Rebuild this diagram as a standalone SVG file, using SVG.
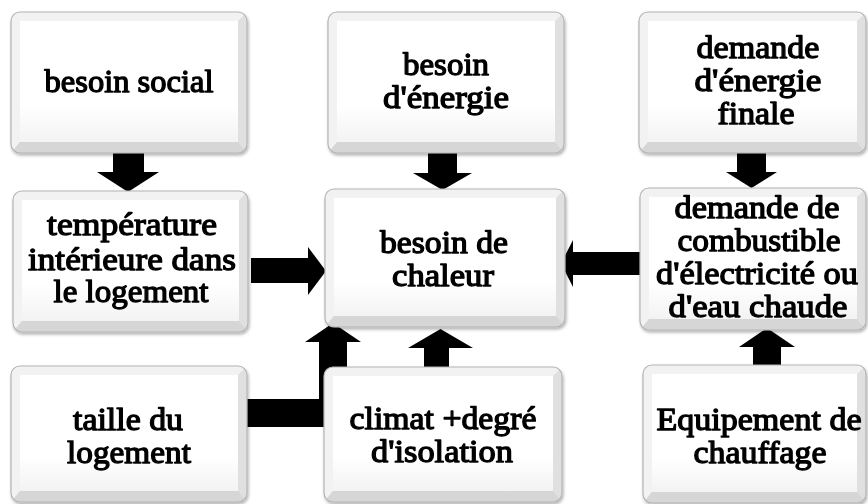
<svg xmlns="http://www.w3.org/2000/svg" width="868" height="504" viewBox="0 0 868 504">
<defs>
<style>
.tl{fill:#f2f2f2}
.br{fill:#e0e0e0}
.bt{fill:#d6d6d6}
.in{fill:url(#face)}
.bd{fill:none;stroke:#b4b4b4;stroke-width:1.2}
.arr{fill:#000}
.lbl{font-family:'Liberation Serif',serif;font-weight:normal;font-size:32px;text-anchor:middle;fill:#000;stroke:#000;stroke-width:1.3;stroke-linejoin:round}
</style>
<linearGradient id="face" x1="0" y1="0" x2="0" y2="1">
<stop offset="0" stop-color="#ffffff"/>
<stop offset="0.7" stop-color="#ffffff"/>
<stop offset="1" stop-color="#f3f3f3"/>
</linearGradient>
<clipPath id="rr" clipPathUnits="objectBoundingBox"><rect x="0" y="0" width="1" height="1" rx="0.04" ry="0.066"/></clipPath>
<filter id="sh" x="-5%" y="-5%" width="115%" height="115%"><feDropShadow dx="1" dy="2" stdDeviation="1.5" flood-color="#000" flood-opacity="0.3"/></filter>
</defs>

<g id="connectors">
<polygon class="arr" points="113,150 144,150 144,172 159,172 128,192 97,172 113,172"/>
<polygon class="arr" points="428,153 457,153 457,173 472,173 442.5,190 413,173 428,173"/>
<polygon class="arr" points="737,153 766,153 766,172 777,172 751.5,188 726,172 737,172"/>
<polygon class="arr" points="251,258 308,258 308,247 326,271 308,295 308,283 251,283"/>
<polygon class="arr" points="640,252 573,252 573,240 561,263.5 573,287 573,275 640,275"/>
<polygon class="arr" points="247,399 319,399 319,342 305,342 333,323 361,342 347,342 347,427 247,427"/>
<polygon class="arr" points="424,367 424,348 408,348 440.5,329 473,348 449,348 449,367"/>
<polygon class="arr" points="753,365 753,347 739,347 767,328 795,347 781,347 781,365"/>
</g>

<g id="n1" filter="url(#sh)">
<g clip-path="url(#rr)">
<rect class="br" x="11" y="12" width="236" height="141"/>
<polygon class="tl" points="11,12 247,12 238,21 20,21 20,142 11,153"/>
<polygon class="bt" points="11,153 247,153 238,142 20,142"/>
<rect class="in" x="20" y="21" width="218" height="121"/>
</g>
<rect class="bd" x="11" y="12" width="236" height="141" rx="9"/>
<text class="lbl" x="129" y="92" textLength="169" lengthAdjust="spacingAndGlyphs">besoin social</text>
</g>

<g id="n2" filter="url(#sh)">
<g clip-path="url(#rr)">
<rect class="br" x="13" y="191" width="235" height="141"/>
<polygon class="tl" points="13,191 248,191 239,200 22,200 22,321 13,332"/>
<polygon class="bt" points="13,332 248,332 239,321 22,321"/>
<rect class="in" x="22" y="200" width="217" height="121"/>
</g>
<rect class="bd" x="13" y="191" width="235" height="141" rx="9"/>
<text class="lbl" x="132" y="235" textLength="170" lengthAdjust="spacingAndGlyphs">température</text>
<text class="lbl" x="132" y="270" textLength="208" lengthAdjust="spacingAndGlyphs">intérieure dans</text>
<text class="lbl" x="131" y="302" textLength="155" lengthAdjust="spacingAndGlyphs">le logement</text>
</g>

<g id="n3" filter="url(#sh)">
<g clip-path="url(#rr)">
<rect class="br" x="11" y="366" width="236" height="136"/>
<polygon class="tl" points="11,366 247,366 238,375 20,375 20,491 11,502"/>
<polygon class="bt" points="11,502 247,502 238,491 20,491"/>
<rect class="in" x="20" y="375" width="218" height="116"/>
</g>
<rect class="bd" x="11" y="366" width="236" height="136" rx="9"/>
<text class="lbl" x="128" y="430" textLength="110" lengthAdjust="spacingAndGlyphs">taille du</text>
<text class="lbl" x="129" y="463" textLength="124" lengthAdjust="spacingAndGlyphs">logement</text>
</g>

<g id="n4" filter="url(#sh)">
<g clip-path="url(#rr)">
<rect class="br" x="328" y="12" width="236" height="141"/>
<polygon class="tl" points="328,12 564,12 555,21 337,21 337,142 328,153"/>
<polygon class="bt" points="328,153 564,153 555,142 337,142"/>
<rect class="in" x="337" y="21" width="218" height="121"/>
</g>
<rect class="bd" x="328" y="12" width="236" height="141" rx="9"/>
<text class="lbl" x="446" y="75" textLength="86" lengthAdjust="spacingAndGlyphs">besoin</text>
<text class="lbl" x="446" y="108" textLength="126" lengthAdjust="spacingAndGlyphs">d'énergie</text>
</g>

<g id="n5" filter="url(#sh)">
<g clip-path="url(#rr)">
<rect class="br" x="325" y="189" width="240" height="138"/>
<polygon class="tl" points="325,189 565,189 556,198 334,198 334,316 325,327"/>
<polygon class="bt" points="325,327 565,327 556,316 334,316"/>
<rect class="in" x="334" y="198" width="222" height="118"/>
</g>
<rect class="bd" x="325" y="189" width="240" height="138" rx="9"/>
<text class="lbl" x="444" y="253" textLength="128" lengthAdjust="spacingAndGlyphs">besoin de</text>
<text class="lbl" x="443" y="286" textLength="102" lengthAdjust="spacingAndGlyphs">chaleur</text>
</g>

<g id="n6" filter="url(#sh)">
<g clip-path="url(#rr)">
<rect class="br" x="324" y="367" width="238" height="135"/>
<polygon class="tl" points="324,367 562,367 553,376 333,376 333,491 324,502"/>
<polygon class="bt" points="324,502 562,502 553,491 333,491"/>
<rect class="in" x="333" y="376" width="220" height="115"/>
</g>
<rect class="bd" x="324" y="367" width="238" height="135" rx="9"/>
<text class="lbl" x="443" y="429" textLength="187" lengthAdjust="spacingAndGlyphs">climat +degré</text>
<text class="lbl" x="442" y="462" textLength="142" lengthAdjust="spacingAndGlyphs">d'isolation</text>
</g>

<g id="n7" filter="url(#sh)">
<g clip-path="url(#rr)">
<rect class="br" x="639" y="12" width="227" height="141"/>
<polygon class="tl" points="639,12 866,12 857,21 648,21 648,142 639,153"/>
<polygon class="bt" points="639,153 866,153 857,142 648,142"/>
<rect class="in" x="648" y="21" width="209" height="121"/>
</g>
<rect class="bd" x="639" y="12" width="227" height="141" rx="9"/>
<text class="lbl" x="758" y="58" textLength="123" lengthAdjust="spacingAndGlyphs">demande</text>
<text class="lbl" x="758" y="91" textLength="127" lengthAdjust="spacingAndGlyphs">d'énergie</text>
<text class="lbl" x="756" y="124" textLength="77" lengthAdjust="spacingAndGlyphs">finale</text>
</g>

<g id="n8" filter="url(#sh)">
<g clip-path="url(#rr)">
<rect class="br" x="640" y="188" width="226" height="142"/>
<polygon class="tl" points="640,188 866,188 857,197 649,197 649,319 640,330"/>
<polygon class="bt" points="640,330 866,330 857,319 649,319"/>
<rect class="in" x="649" y="197" width="208" height="122"/>
</g>
<rect class="bd" x="640" y="188" width="226" height="142" rx="9"/>
<text class="lbl" x="757" y="218" textLength="165" lengthAdjust="spacingAndGlyphs">demande de</text>
<text class="lbl" x="759" y="251" textLength="163" lengthAdjust="spacingAndGlyphs">combustible</text>
<text class="lbl" x="757" y="284" textLength="202" lengthAdjust="spacingAndGlyphs">d'électricité ou</text>
<text class="lbl" x="758" y="317" textLength="179" lengthAdjust="spacingAndGlyphs">d'eau chaude</text>
</g>

<g id="n9" filter="url(#sh)">
<g clip-path="url(#rr)">
<rect class="br" x="643" y="365" width="223" height="138"/>
<polygon class="tl" points="643,365 866,365 857,374 652,374 652,492 643,503"/>
<polygon class="bt" points="643,503 866,503 857,492 652,492"/>
<rect class="in" x="652" y="374" width="205" height="118"/>
</g>
<rect class="bd" x="643" y="365" width="223" height="138" rx="9"/>
<text class="lbl" x="759" y="430" textLength="205" lengthAdjust="spacingAndGlyphs">Equipement de</text>
<text class="lbl" x="760" y="463" textLength="133" lengthAdjust="spacingAndGlyphs">chauffage</text>
</g>
</svg>
